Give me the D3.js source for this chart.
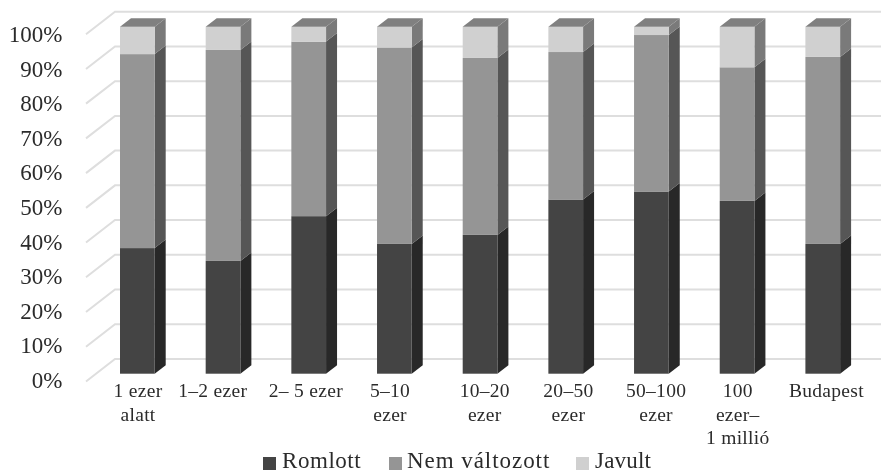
<!DOCTYPE html>
<html><head><meta charset="utf-8">
<script src="https://cdn.jsdelivr.net/npm/d3@7"></script>
<style>html,body{margin:0;padding:0;background:#fff}svg{display:block;filter:blur(0.4px)}text{font-family:"Liberation Serif",serif;fill:#2b2b2b}</style>
</head><body><svg id="c" width="881" height="473"></svg>
<script>
const categories=["1 ezer|alatt","1–2 ezer","2– 5 ezer","5–10|ezer","10–20|ezer","20–50|ezer","50–100|ezer","100|ezer–|1 millió","Budapest"];
const seriesNames=["Romlott","Nem változott","Javult"];
const romlott=[36.2,32.5,45.4,37.4,40.0,50.2,52.5,49.8,37.4];
const nemValtozott=[55.9,60.8,50.3,56.6,51.0,42.5,45.1,38.5,53.9];
const javult=[7.9,6.7,4.3,6.0,9.0,7.3,2.4,11.7,8.7];
const yTicks=[0,10,20,30,40,50,60,70,80,90,100];

const labelShift=[0,-11,-3.5,-5,4,2,4,0,3];
const legendSpacing=[0.55,0.95,0.2];
const frontCol=["#444444","#959595","#d0d0d0"],sideCol=["#282828","#565656","#7a7a7a"],topCol="#808080";
const svg=d3.select("#c");
const idx=d3.range(categories.length);
const x=d3.scaleBand().domain(idx).range([94.3,865.8]).paddingInner(0.595).paddingOuter(0.3);
const yF=d3.scaleLinear().domain([0,100]).range([373.7,26.7]);
const yB=d3.scaleLinear().domain([0,100]).range([359,11.7]);
const yL=d3.scaleLinear().domain([0,100]).range([388,42]);
const dX=11,dY=-8.5,wX=-29,wY=22.5;
const line=d3.line();
const grid=svg.append("g").attr("fill","none").attr("stroke","#dedede").attr("stroke-width",2);
yTicks.forEach(t=>grid.append("path").attr("d",line([[86,yB(t)+wY],[86-wX,yB(t)],[881,yB(t)]])));
svg.append("g").selectAll("text").data(yTicks).join("text")
 .attr("x",62.5).attr("y",d=>yL(d)).attr("text-anchor","end").attr("font-size",23).text(d=>d+"%");
const stack=d3.stack().keys([0,1,2]).value((i,k)=>[romlott,nemValtozott,javult][k][i])(idx);
stack.forEach((layer,k)=>{
 const g=svg.append("g");
 layer.forEach((s,j)=>{
  const x0=x(j),x1=x0+x.bandwidth(),a=yF(s[0]),b=yF(s[1]);
  g.append("path").attr("fill",sideCol[k]).attr("d",line([[x1,a],[x1+dX,a+dY],[x1+dX,b+dY],[x1,b]])+"Z");
  g.append("rect").attr("x",x0).attr("y",b).attr("width",x.bandwidth()).attr("height",a-b).attr("fill",frontCol[k]);
  if(k===2) g.append("path").attr("fill",topCol).attr("d",line([[x0,b],[x0+dX,b+dY],[x1+dX,b+dY],[x1,b]])+"Z");
 });
});
const lab=svg.append("g");
categories.forEach((c,j)=>{
 c.split("|").forEach((t,i)=>lab.append("text").attr("x",x(j)+x.bandwidth()/2+labelShift[j]+0.7).attr("y",397+i*23.7)
  .attr("text-anchor","middle").attr("font-size",19.5).attr("letter-spacing",0.3).text(t));
});
const legX=[263,389,576];
const leg=svg.append("g");
seriesNames.forEach((n,k)=>{
 leg.append("rect").attr("x",legX[k]).attr("y",457).attr("width",13).attr("height",13).attr("fill",frontCol[k]);
 leg.append("text").attr("x",legX[k]+(k==2?19:k==1?18:19)).attr("y",468).attr("font-size",23).attr("letter-spacing",legendSpacing[k]).text(n);
});
</script></body></html>
